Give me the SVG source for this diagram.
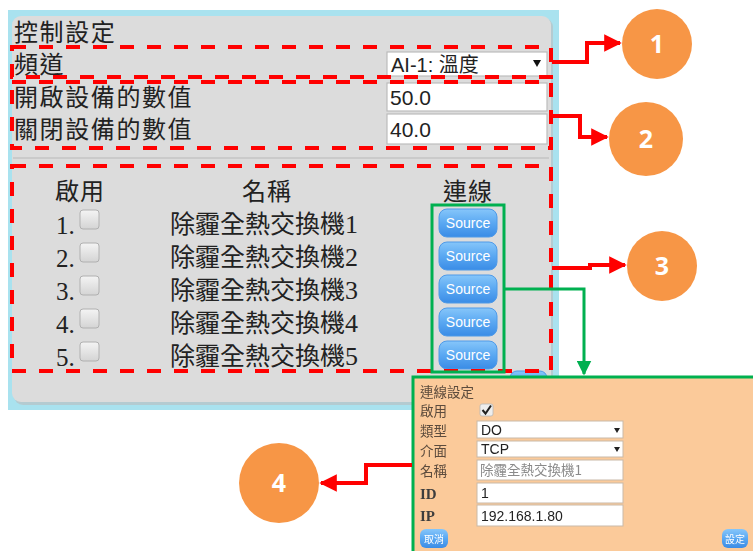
<svg xmlns="http://www.w3.org/2000/svg" width="753" height="551" viewBox="0 0 753 551">
  <defs>
    <linearGradient id="btnBlue" x1="0" y1="0" x2="0" y2="1">
      <stop offset="0" stop-color="#86c6fa"/>
      <stop offset="0.5" stop-color="#5aa8f2"/>
      <stop offset="1" stop-color="#3a8ce6"/>
    </linearGradient>
    <linearGradient id="chk" x1="0" y1="0" x2="0" y2="1">
      <stop offset="0" stop-color="#f4f4f4"/>
      <stop offset="1" stop-color="#d4d4d4"/>
    </linearGradient>
    <marker id="arrRed" viewBox="0 0 10 10" refX="9" refY="5" markerWidth="4.4" markerHeight="4.4" orient="auto" markerUnits="strokeWidth">
      <path d="M0,0 L10,5 L0,10 Z" fill="#ff0000"/>
    </marker>
    <marker id="arrGreen" viewBox="0 0 10 10" refX="9" refY="5" markerWidth="5" markerHeight="5" orient="auto" markerUnits="strokeWidth">
      <path d="M0,0 L10,5 L0,10 Z" fill="#00b050"/>
    </marker>
    <filter id="soft" x="-5%" y="-5%" width="110%" height="110%">
      <feGaussianBlur stdDeviation="0.35"/>
    </filter>
  </defs>
  <style>
    .cjk { font-family: "Noto Sans CJK TC", "Noto Sans", sans-serif; fill: #222; }
    .ser { font-family: "Liberation Serif", "Noto Sans CJK TC", serif; fill: #222; }
    .lat { font-family: "Liberation Sans", "Noto Sans CJK TC", sans-serif; fill: #222; }
    .lbl { font-size: 24px; letter-spacing: 1.6px; }
    .hdr { font-size: 24px; letter-spacing: 1px; text-anchor: middle; }
    .box { fill: #ffffff; stroke: #bcbcbc; stroke-width: 1.2; }
    .dash { fill: none; stroke: #ff0000; stroke-width: 4; stroke-dasharray: 14 13; }
    .conn-red { fill: none; stroke: #ff0000; stroke-width: 4; }
    .conn-green { fill: none; stroke: #00b050; stroke-width: 3; }
    .badge { fill: #f79646; }
    .badge-t { font-family: "Open Sans", "Liberation Sans", sans-serif; font-weight: bold; font-size: 25px; fill: #ffffff; text-anchor: middle; }
    .src { fill: url(#btnBlue); stroke: #4f9ae8; stroke-width: 1; }
    .src-t { font-family: "Liberation Sans", sans-serif; font-size: 14px; fill: #ffffff; text-anchor: middle; }
    .cb { fill: url(#chk); stroke: #b0b0b0; stroke-width: 1; }
    .pl { font-family: "Noto Sans CJK TC", sans-serif; font-size: 13.5px; fill: #5c4b3c; }
    .pbox { fill: #ffffff; stroke: #c9b9a8; stroke-width: 1; }
  </style>

  <!-- control settings panel -->
  <g id="panel">
    <rect x="8" y="10" width="551" height="400" fill="#a9e2ef"/>
    <rect x="14" y="18" width="539" height="387" rx="9" fill="#bdbdbd" opacity="0.6"/>
    <rect x="12" y="16" width="539" height="386" rx="9" fill="#dcdcdc"/>
    <text class="cjk lbl" x="14" y="41">控制設定</text>
    <text class="cjk lbl" x="14" y="73">頻道</text>
    <text class="cjk lbl" x="14" y="106">開啟設備的數值</text>
    <text class="cjk lbl" x="14" y="138">關閉設備的數值</text>

    <rect class="box" x="387" y="52" width="160" height="24"/>
    <text class="lat" x="391" y="72" font-size="20">AI-1: 溫度</text>
    <polygon points="533,60 541,60 537,67" fill="#111"/>
    <rect class="box" x="387" y="83" width="160" height="28"/>
    <text class="lat" x="390" y="105" font-size="21">50.0</text>
    <rect class="box" x="387" y="114" width="160" height="30"/>
    <text class="lat" x="390" y="137" font-size="21">40.0</text>

    <line x1="13" y1="158" x2="549" y2="158" stroke="#c4c4c4" stroke-width="1.5"/>

    <text class="cjk hdr" x="80" y="200">啟用</text>
    <text class="cjk hdr" x="267" y="200">名稱</text>
    <text class="cjk hdr" x="468" y="200">連線</text>

    <g id="rows">
      <text class="ser" x="56" y="234" font-size="25">1.</text>
      <rect class="cb" x="80" y="210" width="19" height="19" rx="3"/>
      <text class="cjk" x="170" y="233" font-size="25">除霾全熱交換機<tspan class="ser" font-size="26">1</tspan></text>

      <text class="ser" x="56" y="267" font-size="25">2.</text>
      <rect class="cb" x="80" y="243" width="19" height="19" rx="3"/>
      <text class="cjk" x="170" y="266" font-size="25">除霾全熱交換機<tspan class="ser" font-size="26">2</tspan></text>

      <text class="ser" x="56" y="300" font-size="25">3.</text>
      <rect class="cb" x="80" y="276" width="19" height="19" rx="3"/>
      <text class="cjk" x="170" y="299" font-size="25">除霾全熱交換機<tspan class="ser" font-size="26">3</tspan></text>

      <text class="ser" x="56" y="333" font-size="25">4.</text>
      <rect class="cb" x="80" y="309" width="19" height="19" rx="3"/>
      <text class="cjk" x="170" y="332" font-size="25">除霾全熱交換機<tspan class="ser" font-size="26">4</tspan></text>

      <text class="ser" x="56" y="366" font-size="25">5.</text>
      <rect class="cb" x="80" y="342" width="19" height="19" rx="3"/>
      <text class="cjk" x="170" y="365" font-size="25">除霾全熱交換機<tspan class="ser" font-size="26">5</tspan></text>
    </g>

    <g id="source-buttons">
      <rect class="src" x="439" y="209" width="58" height="28" rx="8"/>
      <text class="src-t" x="468" y="228">Source</text>
      <rect class="src" x="439" y="242" width="58" height="28" rx="8"/>
      <text class="src-t" x="468" y="261">Source</text>
      <rect class="src" x="439" y="275" width="58" height="28" rx="8"/>
      <text class="src-t" x="468" y="294">Source</text>
      <rect class="src" x="439" y="308" width="58" height="28" rx="8"/>
      <text class="src-t" x="468" y="327">Source</text>
      <rect class="src" x="439" y="341" width="58" height="28" rx="8"/>
      <text class="src-t" x="468" y="360">Source</text>
      <rect class="src" x="510" y="371" width="37" height="20" rx="7"/>
    </g>
  </g>

  <!-- highlighted regions -->
  <g id="regions">
    <rect id="region-1" class="dash" x="12" y="47" width="539" height="30"/>
    <rect id="region-2" class="dash" x="12" y="82" width="539" height="66"/>
    <rect id="region-3" class="dash" x="12" y="166" width="539" height="205"/>
    <rect id="region-sources" x="432" y="205" width="72" height="167" fill="none" stroke="#00b050" stroke-width="3"/>
  </g>

  <!-- connection settings dialog -->
  <g id="dialog" filter="url(#soft)">
    <rect x="413" y="377" width="345" height="180" fill="#fbca9a" stroke="#00b050" stroke-width="3"/>
    <text class="pl" x="420" y="397">連線設定</text>
    <text class="pl" x="420" y="416">啟用</text>
    <rect x="480" y="404" width="13" height="12" rx="2" fill="#eeeeee" stroke="#b8b8b8" stroke-width="0.8"/>
    <path d="M482.5,410 L485.5,413.5 L491,405.5" fill="none" stroke="#222" stroke-width="2"/>
    <text class="pl" x="420" y="436">類型</text>
    <rect class="pbox" x="477" y="421" width="146" height="17"/>
    <text class="lat" x="481" y="435" font-size="14">DO</text>
    <polygon points="614,428 620,428 617,433" fill="#222"/>
    <text class="pl" x="420" y="456">介面</text>
    <rect class="pbox" x="477" y="441" width="146" height="16"/>
    <text class="lat" x="481" y="454" font-size="14">TCP</text>
    <polygon points="614,447 620,447 617,452" fill="#222"/>
    <text class="pl" x="420" y="476">名稱</text>
    <rect class="pbox" x="477" y="460" width="146" height="20"/>
    <text class="cjk" x="480" y="475" font-size="13.5" style="fill:#8a8a8a">除霾全熱交換機1</text>
    <text x="420" y="499" font-family="Liberation Serif, serif" font-size="15" font-weight="bold" fill="#3c3c3c">ID</text>
    <rect class="pbox" x="477" y="483" width="146" height="20"/>
    <text class="lat" x="481" y="498" font-size="14">1</text>
    <text x="420" y="521" font-family="Liberation Serif, serif" font-size="15" font-weight="bold" fill="#3c3c3c">IP</text>
    <rect class="pbox" x="477" y="505" width="146" height="21"/>
    <text class="lat" x="481" y="521" font-size="14">192.168.1.80</text>
    <rect x="420" y="529" width="28" height="19" rx="6" fill="url(#btnBlue)"/>
    <text x="434" y="543" font-family="Noto Sans CJK TC, sans-serif" font-size="10" fill="#ffffff" text-anchor="middle">取消</text>
    <rect x="722" y="529" width="26" height="19" rx="6" fill="url(#btnBlue)"/>
    <text x="735" y="543" font-family="Noto Sans CJK TC, sans-serif" font-size="10" fill="#ffffff" text-anchor="middle">設定</text>
  </g>

  <!-- numbered callouts -->
  <g id="callout-1">
    <circle class="badge" cx="657" cy="44" r="35"/>
    <text class="badge-t" x="657" y="53">1</text>
  </g>
  <g id="callout-2">
    <circle class="badge" cx="646" cy="139" r="37"/>
    <text class="badge-t" x="646" y="148">2</text>
  </g>
  <g id="callout-3">
    <circle class="badge" cx="662" cy="266" r="35"/>
    <text class="badge-t" x="662" y="275">3</text>
  </g>
  <g id="callout-4">
    <circle class="badge" cx="279" cy="483" r="40"/>
    <text class="badge-t" x="279" y="492">4</text>
  </g>

  <!-- connectors -->
  <g id="connectors">
    <polyline class="conn-red" points="552,62 587,62 587,43 620,43" marker-end="url(#arrRed)"/>
    <polyline class="conn-red" points="552,116 580,116 580,137 607,137" marker-end="url(#arrRed)"/>
    <polyline class="conn-red" points="552,268 590,268 590,265 625,265" marker-end="url(#arrRed)"/>
    <polyline class="conn-red" points="412,465 366,465 366,483 321,483" marker-end="url(#arrRed)"/>
    <polyline class="conn-green" points="504,289 584,289 584,374" marker-end="url(#arrGreen)"/>
  </g>
</svg>
